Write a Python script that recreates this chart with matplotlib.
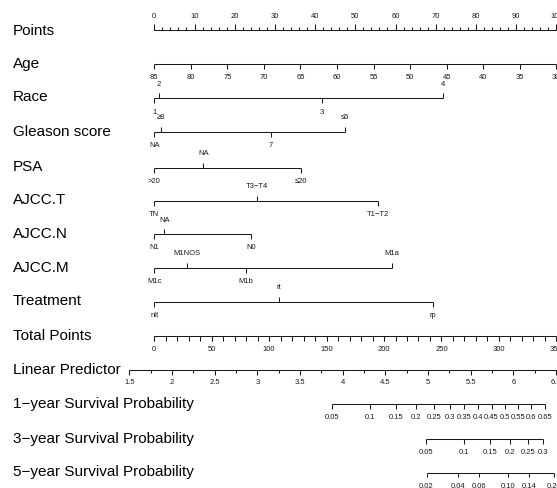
import matplotlib
matplotlib.use("Agg")
import matplotlib.pyplot as plt
import numpy as np
from statistics import NormalDist

# ---- data (points scale 0-100) ----
points_ticks = np.arange(0, 101, 10)
points_minor = np.arange(0, 101, 2)

age_ticks = [85, 80, 75, 70, 65, 60, 55, 50, 45, 40, 35, 30]
age_ends = (85, 30)          # age at 0 points, age at 100 points

race_levels = ["1", "2", "3", "4"]
race_pts = [0, 1.2, 41.6, 71.9]

gleason_levels = ["NA", "\u22658", "7", "\u22646"]
gleason_pts = [0, 1.7, 29.0, 47.4]

psa_levels = [">20", "NA", "\u226420"]
psa_pts = [0, 12.2, 36.5]

ajcc_t_levels = ["TN", "T3\u2212T4", "T1\u2212T2"]
ajcc_t_pts = [0, 25.6, 55.6]

ajcc_n_levels = ["N1", "NA", "N0"]
ajcc_n_pts = [0, 2.5, 24.1]

ajcc_m_levels = ["M1c", "M1NOS", "M1b", "M1a"]
ajcc_m_pts = [0, 8.1, 22.8, 59.1]

treat_levels = ["nlt", "rt", "rp"]
treat_pts = [0, 31.1, 69.3]

total_ticks = np.arange(0, 351, 50)
total_minor = np.arange(0, 351, 10)
total_per_point = 3.5        # 350 total points <-> 100 points

lp_ticks = [1.5, 2, 2.5, 3, 3.5, 4, 4.5, 5, 5.5, 6, 6.5]
lp_minor = np.arange(1.5, 6.51, 0.25)
lp_at_total0 = 1.793
total_per_lp = 74.3

# log-normal survival model: lp = log(t) + sigma * probit(S)
surv_sigma = 1.23
surv_days = [365, 1095, 1825]
surv1_ticks = [0.05, 0.1, 0.15, 0.2, 0.25, 0.3, 0.35, 0.4, 0.45, 0.5, 0.55, 0.6, 0.65]
surv1_labels = ["0.05", "0.1", "0.15", "0.2", "0.25", "0.3", "0.35", "0.4",
                "0.45", "0.5", "0.55", "0.6", "0.65"]
surv3_ticks = [0.05, 0.1, 0.15, 0.2, 0.25, 0.3]
surv3_labels = ["0.05", "0.1", "0.15", "0.2", "0.25", "0.3"]
surv5_ticks = [0.02, 0.04, 0.06, 0.10, 0.14, 0.20]
surv5_labels = ["0.02", "0.04", "0.06", "0.10", "0.14", "0.20"]

row_names = ["Points", "Age", "Race", "Gleason score", "PSA", "AJCC.T", "AJCC.N",
             "AJCC.M", "Treatment", "Total Points", "Linear Predictor",
             "1\u2212year Survival Probability", "3\u2212year Survival Probability",
             "5\u2212year Survival Probability"]

# ---- layout (pixels) ----
W, H = 557, 488
x0_px, px_per_pt = 154.3, 4.02
row_y = [30, 64, 98.3, 131.7, 167.5, 200.7, 234, 267.7, 301.7, 336, 369.5, 404, 439, 472.5]
label_y = [31, 64, 97, 132, 167, 200, 234, 268, 301, 336, 370, 404, 439, 472]

plt.rcParams['font.family'] = ['Liberation Sans', 'DejaVu Sans']
fig = plt.figure(figsize=(W / 100, H / 100), dpi=100)
ax = fig.add_axes([0, 0, 1, 1])
ax.set_xlim(-x0_px / px_per_pt, (W - x0_px) / px_per_pt)
ax.set_ylim(H, 0)
ax.axis('off')

LW = 0.75
COL = '#1a1a1a'
FS = 5.5


def hline(y, a, b):
    ax.plot([a, b], [y, y], color=COL, lw=LW, solid_capstyle='butt')


def ticks(y, xs, length):
    for x in xs:
        ax.plot([x, x], [y, y + length], color=COL, lw=LW, solid_capstyle='butt')


def continuous(y, xs, labels, minor=None, up=False, tl=5, mtl=3):
    allx = list(xs) + ([] if minor is None else list(minor))
    hline(y, min(allx), max(allx))
    s = -1 if up else 1
    if minor is not None:
        ticks(y, minor, s * mtl)
    ticks(y, xs, s * tl)
    for x, lab in zip(xs, labels):
        ax.text(x, y + s * 13.5, lab, fontsize=FS, ha='center', va='center', color=COL)


def categorical(y, pts, levels):
    order = np.argsort(pts, kind='stable')
    hline(y, min(pts), max(pts))
    for k, i in enumerate(order):
        s = 1 if k % 2 == 0 else -1
        ax.plot([pts[i], pts[i]], [y, y + s * 5], color=COL, lw=LW, solid_capstyle='butt')
        ax.text(pts[i], y + s * 13.8, levels[i], fontsize=FS, ha='center', va='center', color=COL)


def lp_to_pts(lp):
    return (np.asarray(lp) - lp_at_total0) * total_per_lp / total_per_point


# Points
continuous(row_y[0], list(points_ticks), [str(v) for v in points_ticks],
           minor=points_minor, up=True, tl=6, mtl=3)

# Age
age_x = [(age_ends[0] - a) * 100 / (age_ends[0] - age_ends[1]) for a in age_ticks]
continuous(row_y[1], age_x, [str(a) for a in age_ticks])

categorical(row_y[2], race_pts, race_levels)
categorical(row_y[3], gleason_pts, gleason_levels)
categorical(row_y[4], psa_pts, psa_levels)
categorical(row_y[5], ajcc_t_pts, ajcc_t_levels)
categorical(row_y[6], ajcc_n_pts, ajcc_n_levels)
categorical(row_y[7], ajcc_m_pts, ajcc_m_levels)
categorical(row_y[8], treat_pts, treat_levels)

# Total points
continuous(row_y[9], list(total_ticks / total_per_point), [str(v) for v in total_ticks],
           minor=total_minor / total_per_point, tl=5, mtl=5)

# Linear predictor
continuous(row_y[10], list(lp_to_pts(lp_ticks)), [f"{v:g}" for v in lp_ticks],
           minor=lp_to_pts(lp_minor), tl=5, mtl=3)

# Survival probabilities
nd = NormalDist()
for y, days, tk, lab in zip(row_y[11:], surv_days,
                             [surv1_ticks, surv3_ticks, surv5_ticks],
                             [surv1_labels, surv3_labels, surv5_labels]):
    lp = [np.log(days) + surv_sigma * nd.inv_cdf(p) for p in tk]
    continuous(y, list(lp_to_pts(lp)), lab, tl=4.5)

for name, y in zip(row_names, label_y):
    ax.text(13 / W, 1 - y / H, name, transform=ax.transAxes, fontsize=11,
            ha='left', va='center', color='black')

fig.savefig('out.png', dpi=100)
